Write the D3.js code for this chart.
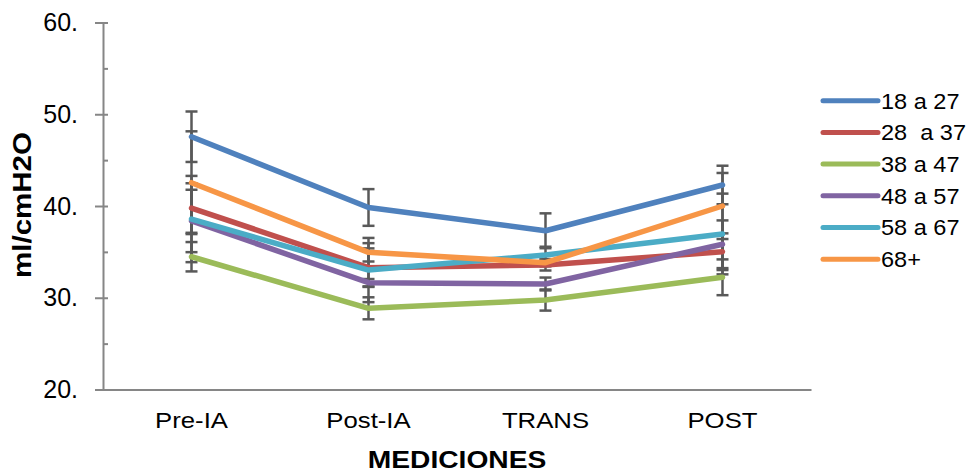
<!DOCTYPE html>
<html>
<head>
<meta charset="utf-8">
<script src="https://cdn.jsdelivr.net/npm/d3@7"></script>
<style>
  body { margin: 0; background: #fff; }
  text { font-family: "Liberation Sans", Arial, sans-serif; fill: #000; }
</style>
</head>
<body>
<svg id="chart"></svg>
<script>
// categorias y series
const categorias = ["Pre-IA", "Post-IA", "TRANS", "POST"];
const edades = ["18 a 27", "28  a 37", "38 a 47", "48 a 57", "58 a 67", "68+"];

const serie18 = [47.55, 39.84, 37.3, 42.29];
const serie28 = [39.78, 33.28, 33.57, 35.02];
const serie38 = [34.47, 28.85, 29.75, 32.23];
const serie48 = [38.37, 31.64, 31.5, 35.83];
const serie58 = [38.58, 33.02, 34.66, 36.95];
const serie68 = [42.54, 34.95, 33.82, 40.0];

// error (+/-) de cada punto
const error18 = [2.75, 2.0, 1.9, 2.1];
const error28 = [2.7, 2.1, 0.6, 2.0];
const error38 = [1.6, 1.2, 1.15, 1.95];
const error48 = [3.4, 0.4, 0.7, 2.6];
const error58 = [4.7, 3.5, 0.9, 4.4];
const error68 = [5.6, 1.0, 0.4, 3.6];

const ticksY = [20, 30, 40, 50, 60];
const ticksMenores = [20, 25, 30, 35, 40, 45, 50, 55, 60];

const colores = ["#4F81BD", "#C0504D", "#9BBB59", "#8064A2", "#4BACC6", "#F79646"];

const WIDTH = 968;
const HEIGHT = 475;

const MARGIN = {
  top: 22.5,
  bottom: 85.5,
  right: 157,
  left: 103,
};

const svg = d3.select("#chart")
  .attr("width", WIDTH)
  .attr("height", HEIGHT);

const series = [serie18, serie28, serie38, serie48, serie58, serie68];
const errores = [error18, error28, error38, error48, error58, error68];

const escala_x = d3.scaleBand()
  .domain(categorias)
  .range([MARGIN.left, WIDTH - MARGIN.right]);

const escala_y = d3.scaleLinear()
  .domain([20, 60])
  .range([HEIGHT - MARGIN.bottom, MARGIN.top]);

const centro = (c) => escala_x(c) + escala_x.bandwidth() / 2;

// eje X
const ejeX = d3.axisBottom(escala_x).tickSize(0).tickSizeOuter(0);
const gx = svg.append("g")
  .attr("transform", `translate(0, ${HEIGHT - MARGIN.bottom})`)
  .call(ejeX);
gx.select(".domain").attr("stroke", "#868686").attr("stroke-width", 2);
gx.selectAll("text")
  .attr("y", 38.5)
  .attr("dy", 0)
  .attr("font-size", 22)
  .attr("transform", "scale(1.17,1)")
  .style("font-family", "Liberation Sans, Arial, sans-serif");

// eje Y
const ejeY = d3.axisLeft(escala_y)
  .tickValues(ticksY)
  .tickSize(8)
  .tickSizeOuter(0)
  .tickPadding(17)
  .tickFormat(d => d + ".");
const gy = svg.append("g")
  .attr("transform", `translate(${MARGIN.left}, 0)`)
  .call(ejeY);
gy.select(".domain").attr("stroke", "#868686").attr("stroke-width", 2);
gy.selectAll("line").attr("stroke", "#868686").attr("stroke-width", 2);
gy.selectAll("text")
  .attr("font-size", 25)
  .style("font-family", "Liberation Sans, Arial, sans-serif");

// marcas menores hacia adentro
const ejeMenor = d3.axisRight(escala_y)
  .tickValues(ticksMenores)
  .tickSize(5)
  .tickFormat("");
const gm = svg.append("g")
  .attr("transform", `translate(${MARGIN.left}, 0)`)
  .call(ejeMenor);
gm.select(".domain").remove();
gm.selectAll("line").attr("stroke", "#868686").attr("stroke-width", 2);

// barras de error
const barras = svg.append("g").attr("class", "errores");
series.forEach((serie, i) => {
  serie.forEach((v, j) => {
    const x = centro(categorias[j]);
    const arriba = escala_y(v + errores[i][j]);
    const abajo = escala_y(v - errores[i][j]);
    barras.append("line")
      .attr("x1", x).attr("x2", x)
      .attr("y1", arriba).attr("y2", abajo)
      .attr("stroke", "#595959").attr("stroke-width", 2.5);
    [arriba, abajo].forEach(yy => {
      barras.append("line")
        .attr("x1", x - 6).attr("x2", x + 6)
        .attr("y1", yy).attr("y2", yy)
        .attr("stroke", "#595959").attr("stroke-width", 2.5);
    });
  });
});

// lineas
const linea = d3.line()
  .x((d, j) => centro(categorias[j]))
  .y(d => escala_y(d));

svg.append("g")
  .attr("class", "lineas")
  .selectAll("path")
  .data(series)
  .enter()
  .append("path")
  .attr("d", d => linea(d))
  .attr("fill", "none")
  .attr("stroke", (d, i) => colores[i])
  .attr("stroke-width", 5.5)
  .attr("stroke-linejoin", "round")
  .attr("stroke-linecap", "round");

// leyenda
const leyenda = svg.append("g")
  .attr("transform", "translate(823, 100.7)");
edades.forEach((nombre, i) => {
  const g = leyenda.append("g").attr("transform", `translate(0, ${i * 31.7})`);
  g.append("line")
    .attr("x1", 0).attr("x2", 55)
    .attr("stroke", colores[i])
    .attr("stroke-width", 5)
    .attr("stroke-linecap", "round");
  g.append("text")
    .attr("transform", "translate(58, 0) scale(1.07,1)")
    .attr("dy", "0.36em")
    .attr("font-size", 22)
    .style("white-space", "pre")
    .text(nombre);
});

// titulos de ejes
svg.append("text")
  .attr("transform", `translate(${(MARGIN.left + WIDTH - MARGIN.right) / 2}, 468) scale(1.2,1)`)
  .attr("text-anchor", "middle")
  .attr("font-size", 23.5)
  .attr("font-weight", "bold")
  .text("MEDICIONES");

svg.append("text")
  .attr("transform", "translate(31, 205) rotate(-90) scale(1.18,1)")
  .attr("text-anchor", "middle")
  .attr("font-size", 25)
  .attr("font-weight", "bold")
  .text("ml/cmH2O");
</script>
</body>
</html>
